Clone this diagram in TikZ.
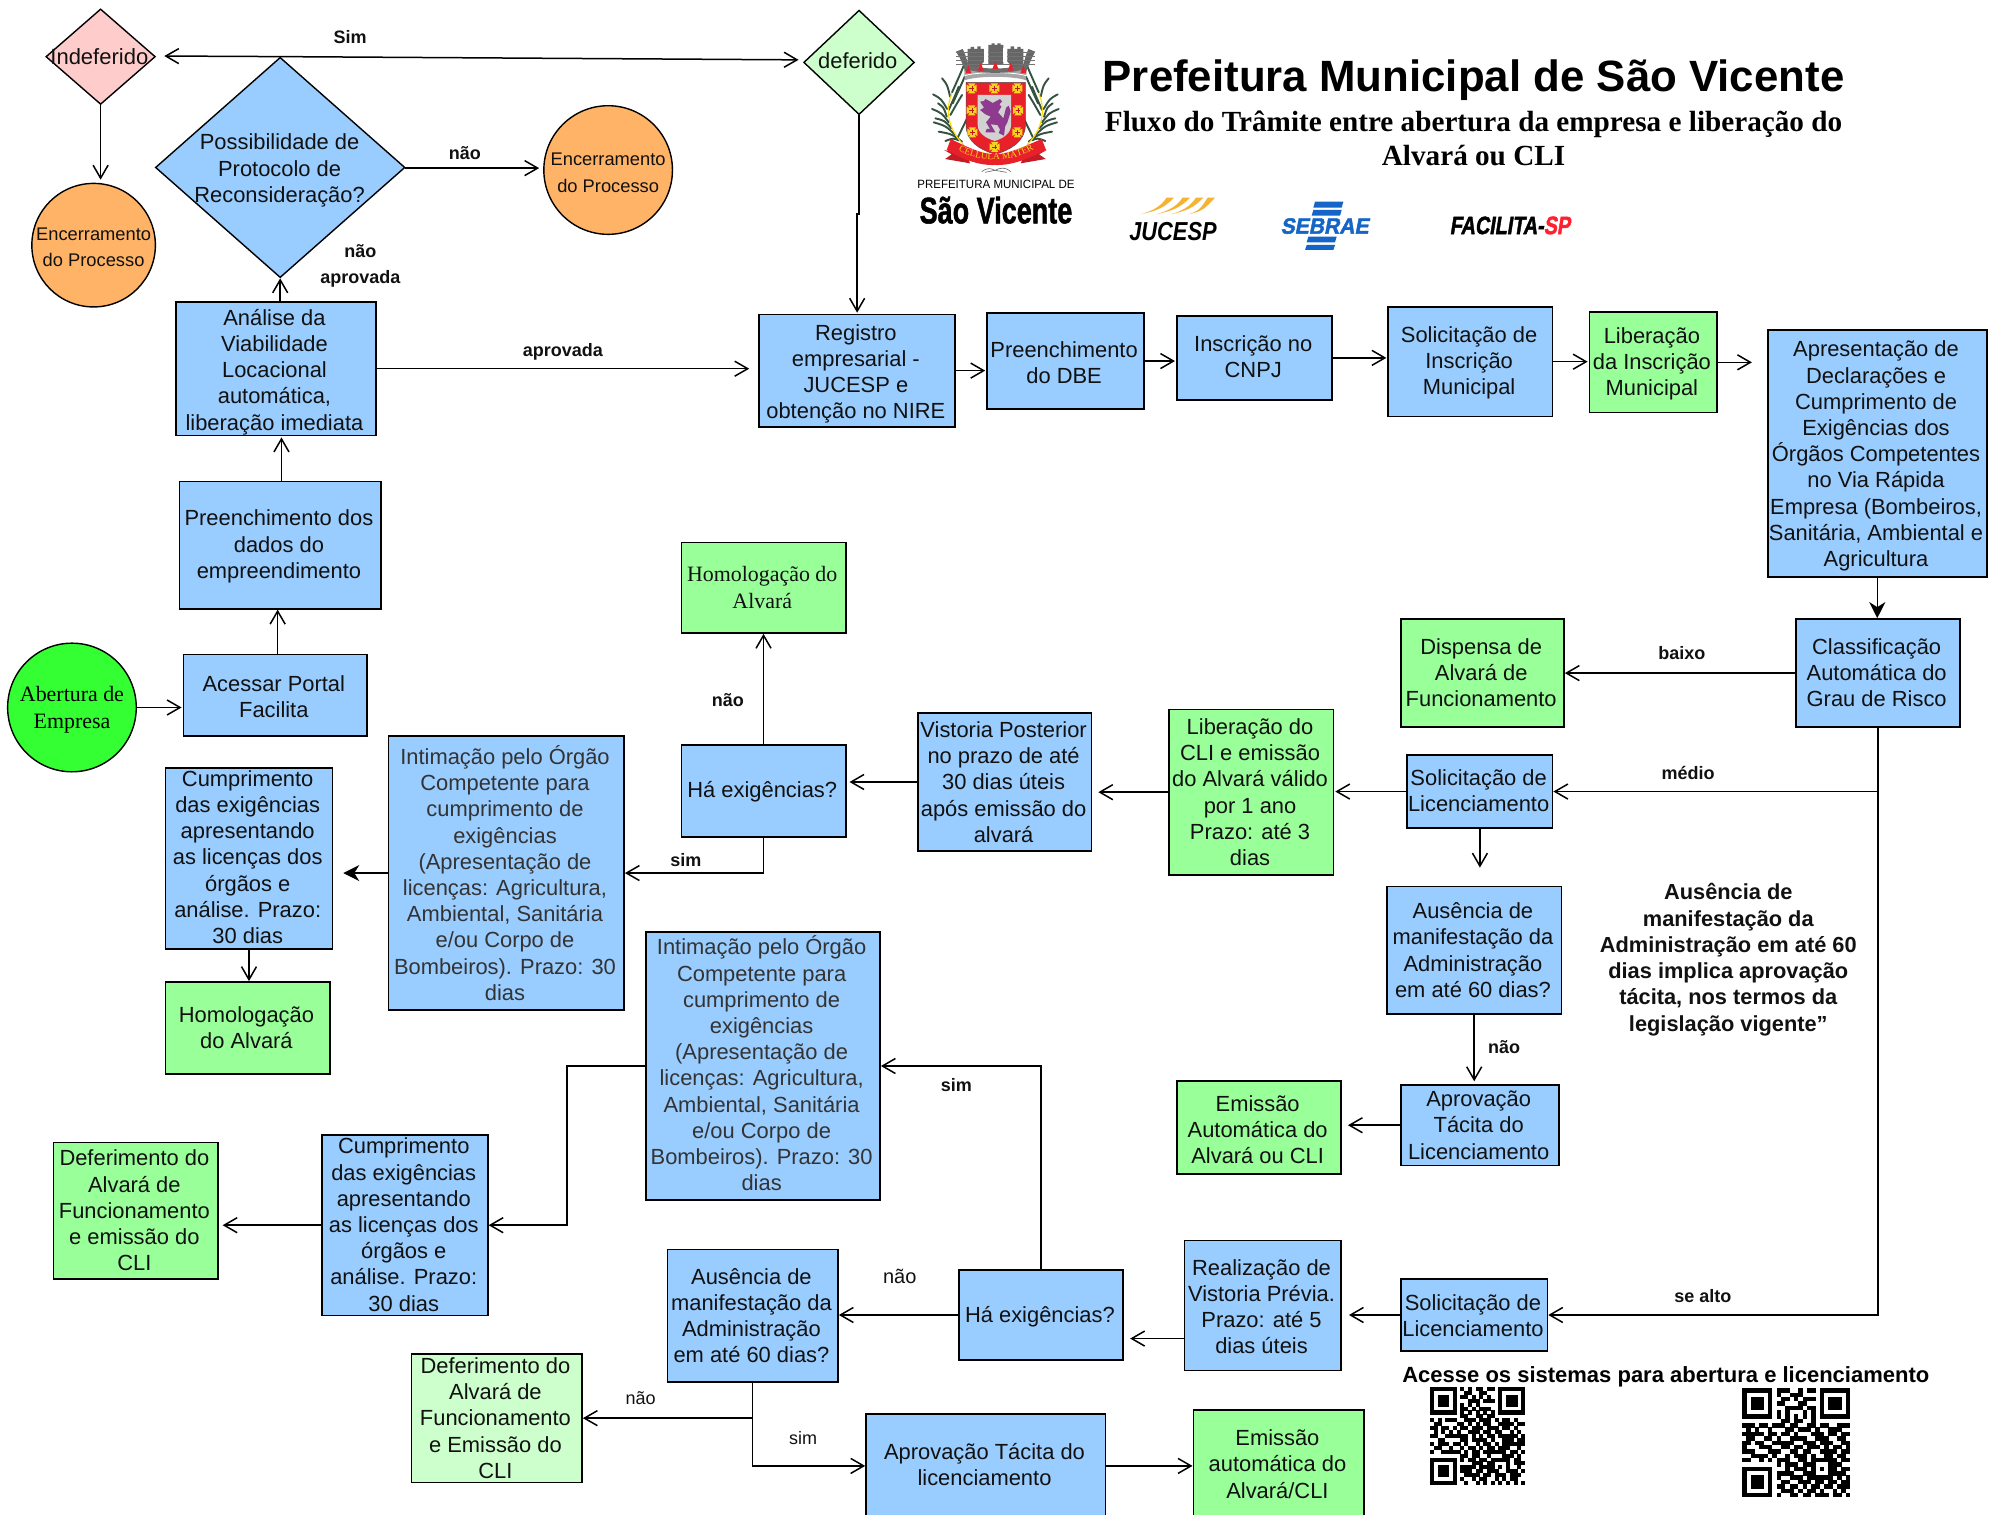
\documentclass[tikz,border=0pt]{standalone}
\usepackage{fontspec}
\setmainfont{Liberation Sans}
\newfontfamily\serifface{Liberation Serif}
\newfontfamily\heavyface{Liberation Sans Bold}[FakeBold=1.5]
\newfontfamily\faciface{Liberation Sans Bold}[FakeBold=2,FakeSlant=0.2]
\usetikzlibrary{shapes.geometric,arrows.meta,decorations.text}
\definecolor{bblue}{HTML}{99CCFF}
\definecolor{bgreen}{HTML}{99FF99}
\definecolor{lgreen}{HTML}{CCFFCC}
\definecolor{bpink}{HTML}{FFCCCC}
\definecolor{borange}{HTML}{FFB366}
\definecolor{lime}{HTML}{33FF33}
\definecolor{inkdark}{HTML}{111111}
\definecolor{inkgrey}{HTML}{333333}
\definecolor{shieldred}{HTML}{E8202A}
\definecolor{leafdark}{HTML}{35513F}
\definecolor{lionpurple}{HTML}{8E3A8E}
\definecolor{sebraeblue}{HTML}{1565C8}
\definecolor{jucesporange}{HTML}{F5B335}
\definecolor{facilitared}{HTML}{FF2030}
\definecolor{crossgold}{HTML}{F7D21E}
\newcommand{\mainsize}{\fontsize{21.9}{26.2}\selectfont}
\tikzset{
  flowbox/.style={draw=black,line width=1.7pt,inner sep=0pt},
  boxlabel/.style={font=\mainsize,align=center,inner sep=0pt,text=inkdark},
  greylabel/.style={font=\mainsize,align=center,inner sep=0pt,text=inkgrey},
  seriflabel/.style={font=\serifface\fontsize{21.9}{27}\selectfont,align=center,inner sep=0pt,text=inkdark},
  blue box/.style={flowbox,fill=bblue},
  green box/.style={flowbox,fill=bgreen},
  pale box/.style={flowbox,fill=lgreen},
  dia/.style={diamond,draw=black,line width=1.4pt,inner sep=0pt},
  ell/.style={ellipse,draw=black,line width=1.4pt,inner sep=0pt},
  arr/.style={draw=black,line width=1.5pt,-{Straight Barb[length=13pt,width=15pt,line width=1.5pt]}},
  arrfill/.style={draw=black,line width=1.5pt,-{Stealth[length=16pt,width=16pt,inset=5pt]}},
  edgelab/.style={font=\bfseries\fontsize{18}{22}\selectfont,text=inkdark,inner sep=0pt},
  edgelabn/.style={font=\fontsize{18}{22}\selectfont,text=inkdark,inner sep=0pt},
}
\newcommand{\lblkind}{boxlabel}
\newcommand{\bx}[8][0]{\node[#7,minimum width={(#5-#3)*1.2736pt},minimum height={(#6-#4)*1.2736pt},label={[\lblkind,xshift=-1.27pt,yshift={-(#1)*1.2736pt}]center:{#8}}] (#2) at ({(#3+#5)/2},{(#4+#6)/2}) {};}
\newcount\qx
\newcount\qy
\def\qrscan#1{\ifx#1\relax\else\ifx#11\fill[black] (\the\qx,\the\qy) rectangle +(1.03,1.03);\fi\advance\qx by 1 \expandafter\qrscan\fi}
\def\qrline#1{\qx=0 \qrscan#1\relax\advance\qy by 1 }
\begin{document}
\begin{tikzpicture}[x=1.2736pt,y=-1.2736pt]
\clip (0,0) rectangle (1568,1189.5);
\fill[white] (0,0) rectangle (1568,1189.5);

% decisions and terminals
\node[dia,fill=bpink,minimum width={86*1.2736pt},minimum height={75*1.2736pt},label={[font=\fontsize{22}{26}\selectfont,text=inkdark,xshift=-1.27pt]center:Indeferido}] (ind) at (79,44.5) {};
\node[dia,fill=lgreen,minimum width={87*1.2736pt},minimum height={82*1.2736pt},label={[font=\mainsize,text=inkdark,xshift=-1.27pt,yshift=1.27pt]center:deferido}] (def) at (674.5,49) {};
\node[dia,fill=bblue,minimum width={196*1.2736pt},minimum height={173*1.2736pt},label={[font=\mainsize,align=center,text=inkdark,yshift=-3pt,xshift=-0.6pt]center:Possibilidade de\\Protocolo de\\Reconsideração?}] (poss) at (220,131.5) {};
\node[ell,fill=borange,minimum width={97*1.2736pt},minimum height={97*1.2736pt},label={[font=\fontsize{18.3}{26.7}\selectfont,align=center,text=inkdark,yshift=-2pt]center:Encerramento\\do Processo}] (enca) at (73.5,192.5) {};
\node[ell,fill=borange,minimum width={101*1.2736pt},minimum height={101*1.2736pt},label={[font=\fontsize{18.3}{26.7}\selectfont,align=center,text=inkdark,yshift=-2.5pt]center:Encerramento\\do Processo}] (encb) at (477.5,133.5) {};
\node[ell,fill=lime,minimum width={101*1.2736pt},minimum height={101*1.2736pt},label={[font=\serifface\fontsize{21.9}{27}\selectfont,align=center,text=black,yshift=-2.5pt]center:Abertura de\\Empresa}] (abe) at (56.5,555.5) {};

% boxes
\bx[2.5]{ana}{138}{237}{295}{342}{blue box}{Análise da\\Viabilidade\\Locacional\\automática,\\liberação imediata}
\bx[1]{pre}{141}{378}{299}{478}{blue box}{Preenchimento dos\\dados do\\empreendimento}
\bx[1]{acs}{144}{514}{288}{578}{blue box}{Acessar Portal\\Facilita}
\bx[2.5]{reg}{596}{247}{750}{335}{blue box}{Registro\\empresarial -\\JUCESP e\\obtenção no NIRE}
\bx[1]{dbe}{775}{246}{898}{321}{blue box}{Preenchimento\\do DBE}
\bx[-1]{cnpj}{924}{248}{1046}{314}{blue box}{Inscrição no\\CNPJ}
\bx[1]{sol}{1090}{241}{1219}{327}{blue box}{Solicitação de\\Inscrição\\Municipal}
\bx[1]{lib}{1248}{245}{1348}{324}{green box}{Liberação\\da Inscrição\\Municipal}
\bx[2]{apres}{1388}{259}{1560}{453}{blue box}{Apresentação de\\Declarações e\\Cumprimento de\\Exigências dos\\Órgãos Competentes\\no Via Rápida\\Empresa (Bombeiros,\\Sanitária, Ambiental e\\Agricultura}
\bx[-0.5]{cla}{1410}{486}{1539}{571}{blue box}{Classificação\\Automática do\\Grau de Risco}
\bx[-0.5]{dis}{1100}{486}{1228}{571}{green box}{Dispensa de\\Alvará de\\Funcionamento}
\bx[-0.5]{sl}{1105}{593}{1219}{650}{blue box}{Solicitação de\\Licenciamento}
\bx{cli}{918}{557}{1047}{687}{green box}{Liberação do\\CLI e emissão\\do Alvará válido\\por 1 ano\\Prazo: até 3\\dias}
\bx{vis}{721}{560}{857}{668}{blue box}{Vistoria Posterior\\no prazo de até\\30 dias úteis\\após emissão do\\alvará}
\bx[1]{hae}{535}{585}{664}{657}{blue box}{Há exigências?}
\renewcommand{\lblkind}{seriflabel}
\bx{hom}{535}{426}{664}{497}{green box}{Homologação do\\Alvará}
\renewcommand{\lblkind}{greylabel}
\bx{inta}{305}{578}{490}{793}{blue box}{Intimação pelo Órgão\\Competente para\\cumprimento de\\exigências\\(Apresentação de\\licenças: Agricultura,\\Ambiental, Sanitária\\e/ou Corpo de\\Bombeiros). Prazo: 30\\dias}
\bx[-2]{intb}{507}{732}{691}{942}{blue box}{Intimação pelo Órgão\\Competente para\\cumprimento de\\exigências\\(Apresentação de\\licenças: Agricultura,\\Ambiental, Sanitária\\e/ou Corpo de\\Bombeiros). Prazo: 30\\dias}
\renewcommand{\lblkind}{boxlabel}
\bx[-1]{cuma}{130}{603}{261}{745}{blue box}{Cumprimento\\das exigências\\apresentando\\as licenças dos\\órgãos e\\análise. Prazo:\\30 dias}
\bx{hob}{130}{771}{259}{843}{green box}{Homologação\\do Alvará}
\bx{aus}{1089}{696}{1226}{796}{blue box}{Ausência de\\manifestação da\\Administração\\em até 60 dias?}
\bx{apr}{1100}{852}{1224}{915}{blue box}{Aprovação\\Tácita do\\Licenciamento}
\bx[1.5]{eme}{924}{849}{1053}{922}{green box}{Emissão\\Automática do\\Alvará ou CLI}
\bx[-0.5]{cumb}{253}{891}{383}{1033}{blue box}{Cumprimento\\das exigências\\apresentando\\as licenças dos\\órgãos e\\análise. Prazo:\\30 dias}
\bx{dea}{42}{897}{171}{1004}{green box}{Deferimento do\\Alvará de\\Funcionamento\\e emissão do\\CLI}
\bx[1]{hab}{753}{997}{882}{1068}{blue box}{Há exigências?}
\bx[1]{rea}{930}{974}{1053}{1076}{blue box}{Realização de\\Vistoria Prévia.\\Prazo: até 5\\dias úteis}
\bx[0.5]{slb}{1100}{1004}{1215}{1061}{blue box}{Solicitação de\\Licenciamento}
\bx{aub}{524}{981}{658}{1085}{blue box}{Ausência de\\manifestação da\\Administração\\em até 60 dias?}
\bx{deb}{323}{1063}{457}{1164}{pale box}{Deferimento do\\Alvará de\\Funcionamento\\e Emissão do\\CLI}
\bx[-1]{apb}{680}{1110}{868}{1192}{blue box}{Aprovação Tácita do\\licenciamento}
\bx{emb}{937}{1107}{1071}{1192}{green box}{Emissão\\automática do\\Alvará/CLI}

% connector helpers
\coordinate (indin) at (129,44);
\coordinate (defin) at (627,47);
\coordinate (defk) at (674.5,168);
\coordinate (acsout) at (218,514);
\coordinate (reaout) at (930,1051);
\coordinate (elb) at (445,837);
\coordinate (preout) at (221,378);
\coordinate (possout) at (318,132);

% connectors
\draw[arr] (poss.north) -- (indin);
\draw[arr] (poss.north) -- (defin);
\draw[arr,shorten >=3pt] (ind.south) -- (ind.south |- enca.north);
\draw[arr,shorten >=4pt] (possout) -- (possout -| encb.west);
\draw[arr] (poss.south |- ana.north) -- (poss.south);
\draw[arr,shorten >=1pt] (preout) -- (preout |- ana.south);
\draw[arr] (acsout) -- (acsout |- pre.south);
\draw[arr,shorten >=1pt] (abe.east) -- (abe.east -| acs.west);
\draw[arr,shorten >=9pt] (ana.east) -- (ana.east -| reg.west);
\draw[arr,shorten >=1pt] (def.south) -- (defk) -| (reg.north);
\draw[arr,shorten >=1pt] (reg.east) -- (reg.east -| dbe.west);
\draw[arr,shorten >=1pt] (dbe.east) -- (dbe.east -| cnpj.west);
\draw[arr,shorten >=1pt] (cnpj.east) -- (cnpj.east -| sol.west);
\draw[arr,shorten >=1pt] (sol.east) -- (sol.east -| lib.west);
\draw[arr,shorten >=15pt] (lib.east) -- (lib.east -| apres.west);
\draw[arrfill] (apres.south) -- (apres.south |- cla.north);
\draw[arr] (cla.west) -- (dis.east);
\draw[arr] (cla.south) |- (slb.east);
\draw[arr] (cla.south |- sl.east) -- (sl.east);
\draw[arr,shorten >=1pt] (sl.west) -- (sl.west -| cli.east);
\draw[arr,shorten >=18pt] (sl.south) -- (sl.south |- aus.north);
\draw[arr,shorten >=3pt] (aus.south) -- (aus.south |- apr.north);
\draw[arr,shorten >=6pt] (apr.west) -- (apr.west -| eme.east);
\draw[arr,shorten >=6pt] (cli.west) -- (cli.west -| vis.east);
\draw[arr,shorten >=3pt] (vis.west) -- (vis.west -| hae.east);
\draw[arr] (hae.north) -- (hom.south);
\draw[arr] (hae.south) |- (inta.east);
\draw[arrfill,shorten >=10pt] (inta.west) -- (inta.west -| cuma.east);
\draw[arr] (cuma.south) -- (cuma.south |- hob.north);
\draw[arr,shorten >=7pt] (slb.west) -- (slb.west -| rea.east);
\draw[arr,shorten >=6pt] (reaout) -- (reaout -| hab.east);
\draw[arr] (hab.north) |- (intb.east);
\draw[arr] (hab.west) -- (hab.west -| aub.east);
\draw[arr] (intb.west) -- (elb) |- (cumb.east);
\draw[arr,shorten >=4pt] (cumb.west) -- (cumb.west -| dea.east);
\draw[arr] (aub.south) |- (deb.east);
\draw[arr] (aub.south) |- (apb.west);
\draw[arr] (apb.east) -- (apb.east -| emb.west);

% edge labels
\node[edgelab] (lsim) at (275,29) {Sim};
\node[edgelab] (lnaoa) at (365,120) {não};
\node[edgelab] (lnaob) at (283,197) {não};
\node[edgelab] (lapra) at (283,219) {aprovada};
\node[edgelab] (laprb) at (442,276) {aprovada};
\node[edgelab] (lbaixo) at (1320.5,513) {baixo};
\node[edgelab] (lmedio) at (1325.5,607) {médio};
\node[edgelab] (lnaoc) at (1181,822) {não};
\node[edgelab] (lsimb) at (751,852) {sim};
\node[edgelab] (lalto) at (1337,1018) {se alto};
\node[edgelab] (lsimc) at (538.5,675) {sim};
\node[edgelab] (lnaod) at (571.5,550) {não};
\node[edgelabn,font=\fontsize{20}{24}\selectfont] (lnaoe) at (706.5,1002) {não};
\node[edgelabn] (lnaof) at (503,1098) {não};
\node[edgelabn] (lsimd) at (630.5,1129) {sim};

% free text
\node[font=\bfseries\fontsize{21.8}{26.3}\selectfont,align=center,inner sep=0pt,text=inkdark] (note) at (1357,753.5) {Ausência de\\manifestação da\\Administração em até 60\\dias implica aprovação\\tácita, nos termos da\\legislação vigente”};
\node[font=\bfseries\fontsize{43.8}{50}\selectfont,inner sep=0pt,text=black] (title) at (1157,63) {Prefeitura Municipal de São Vicente};
\node[font=\serifface\bfseries\fontsize{29.2}{34.4}\selectfont,align=center,inner sep=0pt,text=black] (subtitle) at (1157,108.5) {Fluxo do Trâmite entre abertura da empresa e liberação do\\Alvará ou CLI};
\node[font=\bfseries\fontsize{22}{26}\selectfont,inner sep=0pt,text=black] (acesse) at (1308,1081) {Acesse os sistemas para abertura e licenciamento};

% crest
\begin{scope}[shift={(722.4,27.48)},x=0.33333pt,y=-0.33333pt]
  \foreach \s in {1,-1}{
    \begin{scope}[shift={(226,0)},xscale=\s]
      \foreach \a/\b/\c/\d in {-100/320/-170/290,-120/300/-185/262,-140/262/-190/222,-145/222/-187/178,-136/185/-160/130,-130/172/-95/92,-128/205/-92/125,-135/240/-100/180,-115/312/-85/250,-140/225/-110/155,-110/316/-150/318,-132/280/-180/250,-146/245/-172/205}{
        \draw[leafdark,line width=1.9pt,line cap=round] (\a,\b) .. controls ({(\a+\c)/2+4},{(\b+\d)/2-8}) .. (\c,\d);
      }
      \draw[yellow!80!orange,line width=1.1pt] (-95,330) .. controls (-145,280) and (-150,220) .. (-130,175);
    \end{scope}
  }
  % crown
  \fill[gray!70] (132,98) .. controls (170,112) and (280,112) .. (320,98) -- (318,136) .. controls (280,122) and (170,122) .. (134,136) -- cycle;
  \draw[white,line width=0.8pt] (134,122) .. controls (170,110) and (280,110) .. (318,122);
  \fill[gray!80!black] (143,90) -- (143,42) -- (152,42) -- (152,36) -- (162,36) -- (162,42) -- (172,42) -- (172,34) -- (182,34) -- (182,42) -- (192,42) -- (192,80) -- (168,105) -- cycle;
  \fill[gray!80!black] (205,90) -- (205,30) -- (215,30) -- (215,25) -- (224,25) -- (224,30) -- (232,30) -- (232,25) -- (242,25) -- (242,30) -- (250,30) -- (250,90) -- cycle;
  \fill[gray!80!black] (262,80) -- (262,42) -- (272,42) -- (272,34) -- (282,34) -- (282,42) -- (292,42) -- (292,36) -- (302,36) -- (302,42) -- (310,42) -- (310,90) -- (285,105) -- cycle;
  \fill[gray!80!black] (108,50) -- (128,42) -- (136,60) -- (150,105) -- (138,112) -- (120,70) -- cycle;
  \fill[gray!80!black] (345,50) -- (325,42) -- (318,60) -- (305,105) -- (317,112) -- (335,70) -- cycle;
  \foreach \yy in {48,60,72,84}{
    \draw[black!55,line width=0.35pt] (108,\yy+4) -- (345,\yy+4);
  }
  \fill[white] (192,40) rectangle (205,80);
  \fill[white] (250,40) rectangle (262,80);
  \fill[gray!85!black] (130,84) .. controls (170,106) and (280,106) .. (322,84) -- (318,100) .. controls (280,118) and (170,118) .. (134,100) -- cycle;
  \foreach \p/\q in {182/107,226/102,272/107,145/115,310/115}{
    \fill[shieldred] (\p-9,\q) -- (\p,\q-24) -- (\p+9,\q) -- cycle;
  }
  % shield
  \fill[shieldred,draw=black!70,line width=0.5pt] (138,142) -- (316,142) -- (316,270) .. controls (316,320) and (270,345) .. (226,358) .. controls (180,345) and (138,320) .. (138,270) -- cycle;
  \fill[gray!35] (173,180) -- (273,180) -- (273,270) .. controls (273,295) and (250,310) .. (224,318) .. controls (198,310) and (173,295) .. (173,270) -- cycle;
  \foreach \p/\q in {155/160,223/160,292/160,155/226,294/226,157/292,292/292,224/336}{
    \fill[crossgold] (\p-15,\q-11) -- (\p-5,\q-5) -- (\p-11,\q-15) -- (\p+11,\q-15) -- (\p+5,\q-5) -- (\p+15,\q-11) -- (\p+15,\q+11) -- (\p+5,\q+5) -- (\p+11,\q+15) -- (\p-11,\q+15) -- (\p-5,\q+5) -- (\p-15,\q+11) -- cycle;
    \draw[shieldred!80!black,line width=0.4pt] (\p-7,\q) -- (\p+7,\q) (\p,\q-7) -- (\p,\q+7);
  }
  \fill[lionpurple] (180,200) -- (192,198) -- (196,192) -- (208,198) -- (218,204) -- (240,192) -- (246,200) -- (238,208) -- (244,215) -- (234,232) -- (250,250) -- (258,218) -- (266,212) -- (272,230) -- (262,262) -- (255,275) -- (252,302) -- (236,294) -- (240,284) -- (232,270) -- (212,268) -- (226,292) -- (196,292) -- (200,282) -- (210,282) -- (198,262) -- (212,245) -- (196,238) -- (180,225) -- (192,218) -- cycle;
  % ribbon
  \fill[shieldred!85!black] (72,345) -- (140,360) -- (150,385) -- (75,372) -- (95,358) -- cycle;
  \fill[shieldred!85!black] (380,345) -- (312,360) -- (302,385) -- (377,372) -- (357,358) -- cycle;
  \fill[shieldred] (92,312) .. controls (140,335) and (180,356) .. (225,358) .. controls (270,356) and (310,335) .. (365,312) -- (378,345) .. controls (330,368) and (280,392) .. (225,390) .. controls (170,392) and (120,368) .. (80,345) -- cycle;
  \path[decorate,decoration={text along path,text={|\fontsize{9.5}{10}\selectfont\serifface\color{crossgold}|CELLULA MATER},text align=center}] (85,322) .. controls (150,392) and (300,392) .. (372,320);
  \draw[black!60,line width=0.6pt] (185,410) .. controls (205,395) and (215,402) .. (225,406) .. controls (240,398) and (255,395) .. (272,410) (195,412) -- (225,406) -- (260,412);
\end{scope}
\node[font=\fontsize{12}{14}\selectfont,xscale=0.96,inner sep=0pt,text=black] (pmsv) at (782,145) {PREFEITURA MUNICIPAL DE};
\node[font=\heavyface\fontsize{37}{40}\selectfont,xscale=0.73,inner sep=0pt,text=black] (saov) at (782,165) {São Vicente};

% partner logos
\begin{scope}[shift={(879.4,145.25)},x=0.33333pt,y=-0.33333pt]
  \foreach \a/\b in {62/162,108/210,152/250,205/285}{
    \fill[jucesporange] (\a,88) .. controls (\a+45,78) and (\b-30,70) .. (\b,38) -- (\b-22,38) .. controls (\b-40,65) and (\a+35,78) .. (\a,88) -- cycle;
  }
  \fill[sebraeblue] (585,50) -- (670,50) -- (665,68) -- (580,68) -- cycle;
  \fill[sebraeblue] (580,75) -- (665,75) -- (660,92) -- (575,92) -- cycle;
  \fill[sebraeblue] (565,155) -- (650,155) -- (645,172) -- (560,172) -- cycle;
  \fill[sebraeblue] (560,180) -- (645,180) -- (640,195) -- (555,195) -- cycle;
\end{scope}
\node[font=\bfseries\itshape\fontsize{26}{28}\selectfont,xscale=0.84,inner sep=0pt,text=black] (jucesp) at (921,181.5) {JUCESP};
\node[font=\faciface\fontsize{22}{24}\selectfont,xscale=0.96,inner sep=0pt,text=sebraeblue] (sebrae) at (1040,177.5) {SEBRAE};
\node[font=\faciface\fontsize{25}{27}\selectfont,xscale=0.79,inner sep=0pt,text=black] (facil) at (1185.5,177) {FACILITA-\textcolor{facilitared}{SP}};

% QR codes
\begin{scope}[shift={(1122.8,1089)},x=3.8pt,y=-3.92pt]
\qy=0
\qrline{1111111010101101101111111}
\qrline{1000001001100110001000001}
\qrline{1011101011010101001011101}
\qrline{1011101000111011101011101}
\qrline{1011101010101000001011101}
\qrline{1000001011010111001000001}
\qrline{1111111010101010101111111}
\qrline{0000000011001101100000000}
\qrline{1010111001110111010110100}
\qrline{0110000110101011001111011}
\qrline{1101101011011101110110100}
\qrline{0101010100111011011001010}
\qrline{1100111111010101101111101}
\qrline{0011000011011110100111011}
\qrline{1011101101001011010111111}
\qrline{0110010010110101101110010}
\qrline{1001111101011011111101101}
\qrline{0000000011011001000111010}
\qrline{1111111010110110111110110}
\qrline{1000001000011101100010111}
\qrline{1011101011110111101010010}
\qrline{1011101011101101110011101}
\qrline{1011101001111011011101110}
\qrline{1000001010010110010101100}
\qrline{1111111001001010101010101}
\end{scope}
\begin{scope}[shift={(1367.8,1090)},x=4.32pt,y=-4.36pt]
\qy=0
\qrline{1111111011100101101111111}
\qrline{1000001010011100001000001}
\qrline{1011101001101011101011101}
\qrline{1011101011000110001011101}
\qrline{1011101000111101101011101}
\qrline{1000001010100010101000001}
\qrline{1111111010101010101111111}
\qrline{0000000001101100100000000}
\qrline{1110110111011001101100111}
\qrline{0101001000110111010011100}
\qrline{1111101101101000111011011}
\qrline{0110011010011110011100110}
\qrline{1101100111110011101110011}
\qrline{1000111001101101110101101}
\qrline{1110001110011011001111011}
\qrline{0011110100101110100110110}
\qrline{1100101011100110111111011}
\qrline{0000000010111011100011100}
\qrline{1111111000101110101011011}
\qrline{1000001011110011100011110}
\qrline{1011101010011101111110101}
\qrline{1011101001100111011011011}
\qrline{1011101011011010110110111}
\qrline{1000001001110101101001010}
\qrline{1111111010011011011101101}
\end{scope}
\end{tikzpicture}
\end{document}
